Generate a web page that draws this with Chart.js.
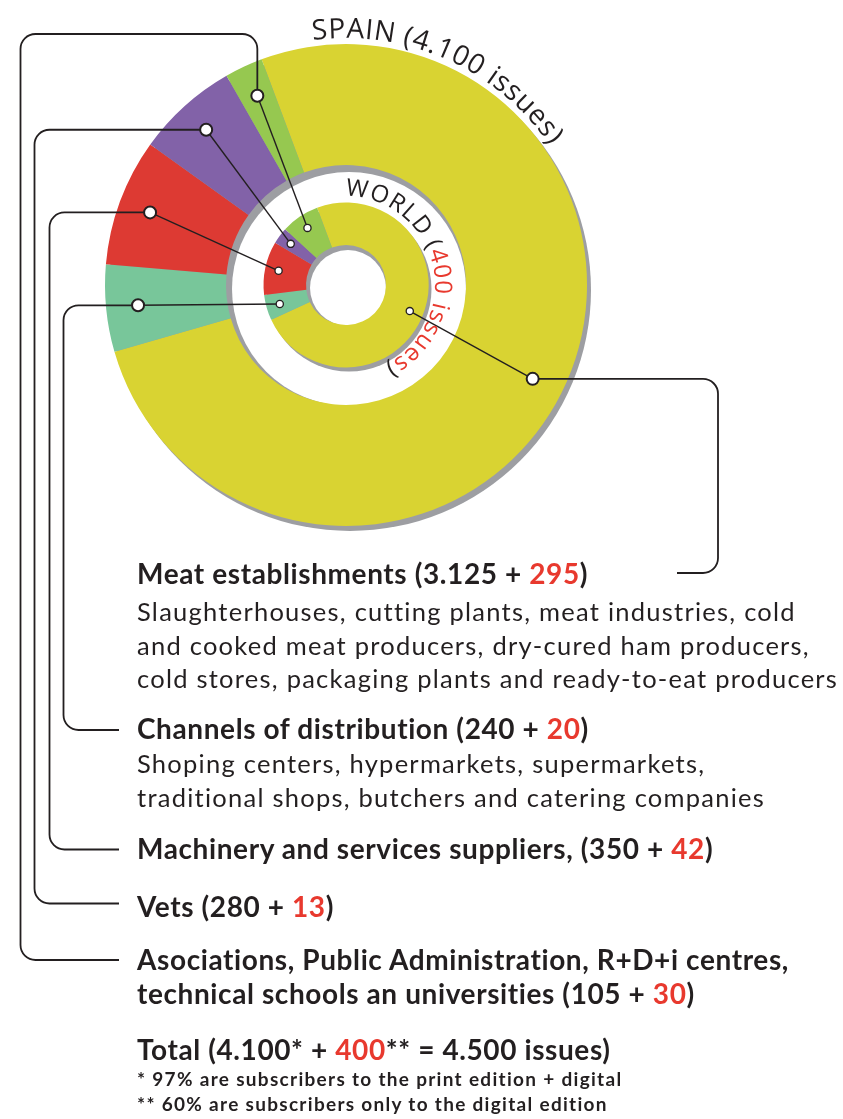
<!DOCTYPE html>
<html>
<head>
<meta charset="utf-8">
<script src="https://cdn.jsdelivr.net/npm/chart.js@4.4.1/dist/chart.umd.min.js"></script>
<style>
  html, body { margin: 0; padding: 0; background: #fff; }
  #wrap { position: relative; width: 843px; height: 1119px; overflow: hidden; }
  #issuesChart, #labels { position: absolute; left: 0; top: 0; }
  .title { font-family: Lato, sans-serif; font-weight: 700; font-size: 28px; letter-spacing: 0.6px; fill: #231f20; }
  .desc { font-family: Lato, sans-serif; font-weight: 400; font-size: 25.5px; letter-spacing: 1.25px; fill: #231f20; }
  .foot { font-family: Lato, sans-serif; font-weight: 700; font-size: 19px; letter-spacing: 1.3px; fill: #231f20; }
  .ring { font-family: "Open Sans", sans-serif; font-size: 28px; letter-spacing: 0.6px; fill: #231f20; }
  .ringSmall { font-family: "Open Sans", sans-serif; font-size: 24px; fill: #231f20; letter-spacing: 1px; }
  .red { fill: #e8392e; }
</style>
</head>
<body>
<div id="wrap">
  <canvas id="issuesChart" width="843" height="1119"></canvas>
  <svg id="labels" width="843" height="1119" xmlns="http://www.w3.org/2000/svg"></svg>
</div>
<script>
// data
const categories = ['Meat establishments', 'Channels of distribution', 'Machinery and services suppliers', 'Vets', 'Asociations'];
const spainIssues = [3125, 240, 350, 280, 105];
const worldIssues = [295, 20, 42, 13, 30];
const sliceColors = ['#d9d332', '#78c69a', '#dd3a33', '#8262a8', '#96c850'];

// label texts
const titleLines = [
  ['Meat establishments'],
  ['Channels of distribution'],
  ['Machinery and services suppliers,'],
  ['Vets'],
  ['Asociations, Public Administration, R+D+i centres,', 'technical schools an universities']
];
const descLines = [
  ['Slaughterhouses, cutting plants, meat industries, cold',
   'and cooked meat producers, dry-cured ham producers,',
   'cold stores, packaging plants and ready-to-eat producers'],
  ['Shoping centers, hypermarkets, supermarkets,',
   'traditional shops, butchers and catering companies'],
  [], [], []
];
const footNotes = ['* 97% are subscribers to the print edition + digital',
                   '** 60% are subscribers only to the digital edition'];

// layout
const center = { x: 346, y: 285 };
const titleY = [[584], [738.5], [858.5], [917], [970, 1003.5]];
const descY = [[621, 654.5, 688], [773, 806.5], [], [], []];
const textX = 137;
const leaderRoutes = [
  [{ x: 718 }, { y: 573 }, { x: 677 }],
  [{ x: 63.5 }, { y: 730 }, { x: 119 }],
  [{ x: 49.5 }, { y: 849.5 }, { x: 119 }],
  [{ x: 34.5 }, { y: 903.5 }, { x: 119 }],
  [{ y: 34 }, { x: 20.5 }, { y: 960 }, { x: 119 }]
];

const fmt = n => n >= 1000 ? Math.floor(n / 1000) + '.' + String(n % 1000).padStart(3, '0') : String(n);
const sum = a => a.reduce((s, v) => s + v, 0);

function pointOnArc(arc, f) {
  const p = arc.getProps(['x', 'y', 'startAngle', 'endAngle', 'innerRadius', 'outerRadius'], true);
  const a = (p.startAngle + p.endAngle) / 2;
  const r = p.innerRadius + f * (p.outerRadius - p.innerRadius);
  return { x: p.x + r * Math.cos(a), y: p.y + r * Math.sin(a) };
}

const ringShadows = {
  id: 'ringShadows',
  beforeDatasetsDraw(chart) {
    const ctx = chart.ctx;
    const outer = chart.getDatasetMeta(0).data[0];
    const inner = chart.getDatasetMeta(2).data[0];
    const cx = outer.x, cy = outer.y;
    const disk = (x, y, r, c) => { ctx.beginPath(); ctx.arc(x, y, r, 0, Math.PI * 2); ctx.fillStyle = c; ctx.fill(); };
    ctx.save();
    disk(cx + 4, cy + 5, outer.outerRadius, '#9d9ea2');
    disk(cx, cy, outer.innerRadius + 1, '#9d9ea2');
    disk(cx + 3, cy + 4, outer.innerRadius - 3, '#ffffff');
    disk(cx + 3, cy + 4, inner.outerRadius, '#9d9ea2');
    disk(cx, cy, inner.innerRadius + 1, '#9d9ea2');
    disk(cx + 2, cy + 3, inner.innerRadius - 2, '#ffffff');
    ctx.restore();
  }
};

const callouts = {
  id: 'callouts',
  afterDatasetsDraw(chart) {
    const ctx = chart.ctx;
    const outerMeta = chart.getDatasetMeta(0);
    const innerMeta = chart.getDatasetMeta(2);
    ctx.save();
    ctx.strokeStyle = '#231f20';
    ctx.lineJoin = 'round';
    const dots = [];
    categories.forEach((c, i) => {
      const po = pointOnArc(outerMeta.data[i], 0.735);
      const pi = pointOnArc(innerMeta.data[i], 0.68);
      dots.push([po, pi]);
      ctx.lineWidth = 1.4;
      ctx.beginPath(); ctx.moveTo(pi.x, pi.y); ctx.lineTo(po.x, po.y); ctx.stroke();
      const pts = [po];
      leaderRoutes[i].forEach(step => {
        const last = pts[pts.length - 1];
        pts.push({ x: step.x !== undefined ? step.x : last.x, y: step.y !== undefined ? step.y : last.y });
      });
      ctx.lineWidth = 1.8;
      ctx.beginPath();
      ctx.moveTo(pts[0].x, pts[0].y);
      for (let k = 1; k < pts.length - 1; k++) ctx.arcTo(pts[k].x, pts[k].y, pts[k + 1].x, pts[k + 1].y, 15);
      ctx.lineTo(pts[pts.length - 1].x, pts[pts.length - 1].y);
      ctx.stroke();
    });
    dots.forEach(([po, pi]) => {
      ctx.fillStyle = '#fff';
      ctx.lineWidth = 2; ctx.beginPath(); ctx.arc(po.x, po.y, 6, 0, Math.PI * 2); ctx.fill(); ctx.stroke();
      ctx.lineWidth = 1.3; ctx.beginPath(); ctx.arc(pi.x, pi.y, 3.6, 0, Math.PI * 2); ctx.fill(); ctx.stroke();
    });
    ctx.restore();
  }
};

new Chart(document.getElementById('issuesChart').getContext('2d'), {
  type: 'doughnut',
  data: {
    labels: categories,
    datasets: [
      { label: 'Spain', data: spainIssues, backgroundColor: sliceColors, weight: 121, borderWidth: 0, hoverOffset: 0 },
      { label: 'gap', data: [1], backgroundColor: 'rgba(0,0,0,0)', weight: 37.5, borderWidth: 0, hoverOffset: 0 },
      { label: 'World', data: worldIssues, backgroundColor: sliceColors, weight: 42.5, borderWidth: 0, hoverOffset: 0 }
    ]
  },
  options: {
    responsive: false,
    animation: false,
    devicePixelRatio: 1,
    rotation: -20.5,
    cutout: 40,
    layout: { padding: { left: 105, top: 44, right: 256, bottom: 593 } },
    plugins: { legend: { display: false }, tooltip: { enabled: false } }
  },
  plugins: [ringShadows, callouts]
});

// texts
const svg = document.getElementById('labels');
const NS = 'http://www.w3.org/2000/svg';
function el(tag, attrs, parent) {
  const e = document.createElementNS(NS, tag);
  for (const k in attrs) e.setAttribute(k, attrs[k]);
  (parent || svg).appendChild(e);
  return e;
}
function addParts(textEl, parts) {
  parts.forEach(([s, red]) => {
    const t = el('tspan', red ? { class: 'red' } : {}, textEl);
    t.textContent = s;
  });
}

titleLines.forEach((lines, i) => {
  lines.forEach((line, j) => {
    const t = el('text', { x: textX, y: titleY[i][j], class: 'title' });
    if (j === lines.length - 1) {
      addParts(t, [[line + ' (' + fmt(spainIssues[i]) + ' + '], [String(worldIssues[i]), true], [')']]);
    } else {
      t.textContent = line;
    }
  });
  descLines[i].forEach((line, j) => {
    const t = el('text', { x: textX, y: descY[i][j], class: 'desc' });
    t.textContent = line;
  });
});

const spainTotal = sum(spainIssues), worldTotal = sum(worldIssues);
addParts(el('text', { x: textX, y: 1060, class: 'title' }),
  [['Total (' + fmt(spainTotal) + '* + '], [String(worldTotal), true], ['** = ' + fmt(spainTotal + worldTotal) + ' issues)']]);
footNotes.forEach((line, j) => {
  el('text', { x: textX, y: 1086 + j * 25, class: 'foot' }).textContent = line;
});

// curved ring titles
function arcPath(id, r, startDeg) {
  const a0 = startDeg * Math.PI / 180, a1 = (startDeg + 179) * Math.PI / 180;
  const x0 = center.x + r * Math.sin(a0), y0 = center.y - r * Math.cos(a0);
  const x1 = center.x + r * Math.sin(a1), y1 = center.y - r * Math.cos(a1);
  el('path', { id: id, d: `M ${x0} ${y0} A ${r} ${r} 0 0 1 ${x1} ${y1}`, fill: 'none' });
}
arcPath('spainArc', 247, -7.7);
arcPath('worldArc', 89, -0.5);
const spainText = el('text', { class: 'ring' });
addParts(el('textPath', { href: '#spainArc' }, spainText), [['SPAIN (' + fmt(spainTotal) + ' issues)']]);
const worldText = el('text', { class: 'ringSmall' });
addParts(el('textPath', { href: '#worldArc' }, worldText), [['WORLD ('], [fmt(worldTotal) + ' issues', true], [')']]);
</script>
</body>
</html>
